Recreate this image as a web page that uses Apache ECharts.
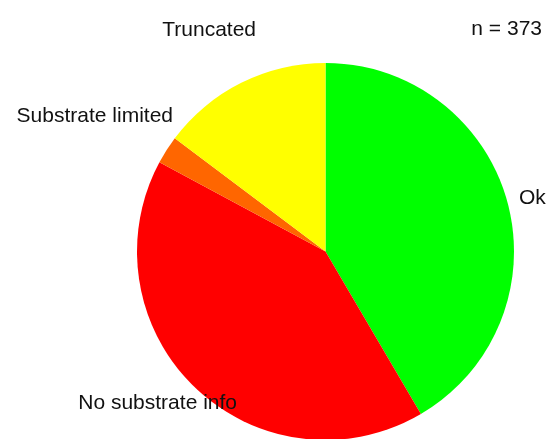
<!DOCTYPE html>
<html>
<head>
<meta charset="utf-8">
<script src="https://cdn.jsdelivr.net/npm/echarts@6/dist/echarts.min.js"></script>
<style>
html,body{margin:0;padding:0;background:#fff;}
#chart{width:549px;height:439px;}
</style>
</head>
<body>
<div id="chart"></div>
<script>
const categories = ['Ok', 'No substrate info', 'Substrate limited', 'Truncated'];
const counts = [155, 154, 9, 55];
const colors = ['#00ff00', '#ff0000', '#ff6600', '#ffff00'];
const total = counts.reduce((a, b) => a + b, 0);

// label spots
const labelPos = [
  {x: 519, y: 198, align: 'left'},
  {x: 237, y: 403, align: 'right'},
  {x: 173, y: 116, align: 'right'},
  {x: 256, y: 30, align: 'right'}
];

const font = 'Liberation Sans, Arial, sans-serif';
const txt = (s, p) => ({
  type: 'text', x: p.x, y: p.y, z: 100, zlevel: 1,
  style: {text: s, fill: '#111', font: '21px ' + font, textAlign: p.align, textVerticalAlign: 'middle'}
});

const chart = echarts.init(document.getElementById('chart'));
chart.setOption({
  animation: false,
  backgroundColor: '#fff',
  series: [{
    type: 'pie',
    center: [325.5, 251.5],
    radius: [0, 188.5],
    startAngle: 90,
    clockwise: true,
    label: {show: false},
    labelLine: {show: false},
    emphasis: {disabled: true},
    itemStyle: {borderWidth: 0},
    data: categories.map((c, i) => ({name: c, value: counts[i], itemStyle: {color: colors[i]}}))
  }],
  graphic: categories.map((c, i) => txt(c, labelPos[i]))
    .concat([txt('n = ' + total, {x: 542, y: 29, align: 'right'})])
});
</script>
</body>
</html>
